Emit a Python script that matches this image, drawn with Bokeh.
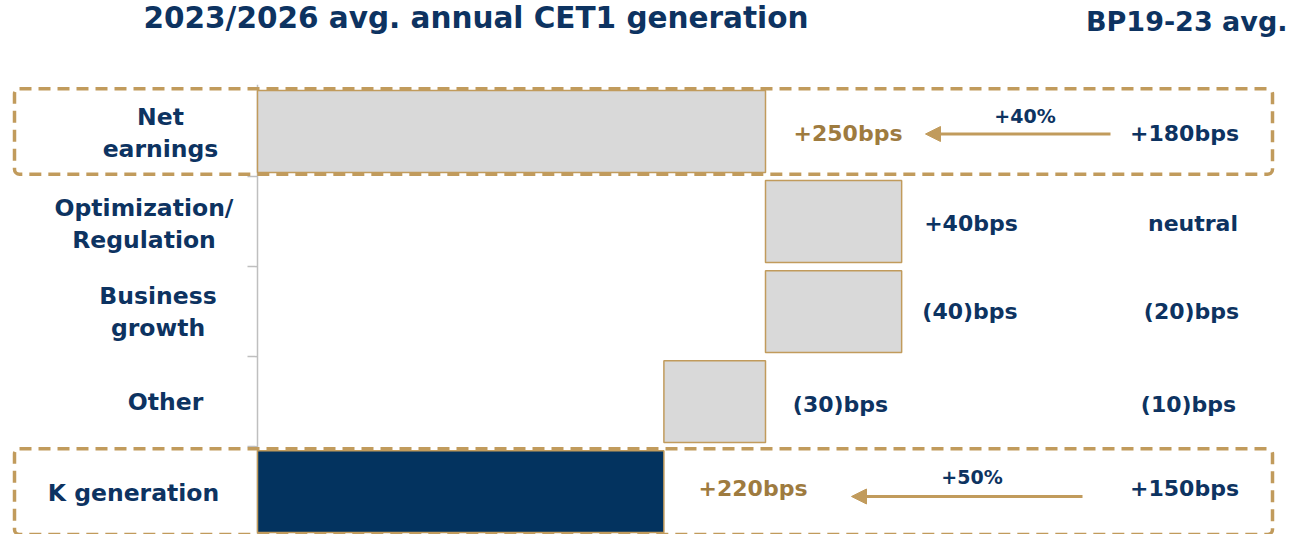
from bokeh.plotting import figure
from bokeh.models import ColumnDataSource, Range1d, Arrow, NormalHead
from bokeh.core.properties import value
from bokeh.embed import file_html
from bokeh.resources import INLINE

# ---------------- data ----------------
categories = ["Net\nearnings", "Optimization/\nRegulation", "Business\ngrowth", "Other", "K generation"]
deltas = [250, 67, -67, -50]          # drawn bar lengths (bps, as drawn in the chart)
plan_labels = ["+250bps", "+40bps", "(40)bps", "(30)bps", "+220bps"]
bp_labels = ["+180bps", "neutral", "(20)bps", "(10)bps", "+150bps"]
growth_labels = ["+40%", "", "", "", "+50%"]
title_left = "2023/2026 avg. annual CET1 generation"
title_right = "BP19-23 avg."

# ---------------- styles ----------------
NAVY = "#0D3361"
GOLD_LINE = "#C19B5C"
GOLD_TEXT = "#9E7B3F"
GREY = "#D9D9D9"
BAR_DARK = "#03335F"
FONT = value("DejaVu Sans")

# layout helpers: reference pixel -> data units
def xv(px):
    return (px - 257) / 2.032

def yv(px):
    return (px - 135.5) / 92.375

p = figure(width=1288, height=534, output_backend="svg", toolbar_location=None,
           x_range=Range1d(xv(0), xv(1288)), y_range=Range1d(yv(549), yv(1)),
           min_border=0, outline_line_color=None, background_fill_color="white",
           border_fill_color="white")
p.axis.visible = False
p.grid.visible = False

# ---------------- waterfall bars ----------------
lefts, rights = [], []
run = 0
for d in deltas:
    s, e = run, run + d
    lefts.append(min(s, e))
    rights.append(max(s, e))
    run = e
lefts.append(0)
rights.append(run)
rows = list(range(len(categories)))
half = 0.455
src = ColumnDataSource(dict(
    left=lefts, right=rights,
    top=[r - half for r in rows], bottom=[r + half for r in rows],
    fill=[GREY] * len(deltas) + [BAR_DARK],
))

# axis line + ticks
n = len(categories)
p.segment(x0=[0], y0=[-0.52], x1=[0], y1=[n - 0.5], line_color="#BFBFBF", line_width=1.5)
p.segment(x0=[xv(247)] * (n - 1), y0=[r + 0.5 for r in rows[:-1]],
          x1=[0] * (n - 1), y1=[r + 0.5 for r in rows[:-1]],
          line_color="#BFBFBF", line_width=1.5)

p.quad(left="left", right="right", top="top", bottom="bottom", source=src,
       fill_color="fill", line_color=GOLD_LINE, line_width=1.5)

# dashed highlight boxes (first and last rows)
bh = 0.475
p.quad(left=[xv(14), xv(14)], right=[xv(1272), xv(1272)],
       top=[0 - bh, n - 1 - bh], bottom=[0 + bh, n - 1 + bh],
       fill_color=None, line_color=GOLD_LINE, line_width=3.5, line_dash="12 7",
       border_radius=5)

# ---------------- texts ----------------
def txt(xs, baselines, texts, size, color, align="center"):
    # place by visual middle (cap-centre) computed from the reference baseline
    ys = [yv(b - 0.36 * size) for b in baselines]
    p.text(x=xs, y=ys, text=texts, text_font=FONT, text_font_style="bold",
           text_font_size=f"{size}px", text_color=color, text_align=align,
           text_baseline="middle")

# titles
txt([xv(475.5)], [30], [title_left], 29.5, NAVY)
txt([xv(1287)], [32], [title_right], 27, NAVY, align="right")

# category labels (two-line labels split)
cat_x = [160, 143.5, 157.5, 165, 133]
cat_base = [129, 222, 312.5, 421.5, 515]
lx, lb, lt = [], [], []
for c, cx, cb in zip(categories, cat_x, cat_base):
    for k, line in enumerate(c.split("\n")):
        lx.append(xv(cx))
        lb.append(cb + 33 * k)
        lt.append(line)
txt(lx, lb, lt, 23.5, NAVY)

# plan (2023/2026) values
plan_x = [847.5, 970.5, 969.5, 840, 752.5]
plan_base = [145, 238, 328.5, 423, 510]
plan_col = [GOLD_TEXT, NAVY, NAVY, NAVY, GOLD_TEXT]
for t, x, b, c in zip(plan_labels, plan_x, plan_base, plan_col):
    txt([xv(x)], [b], [t], 22, c)

# BP19-23 values
bp_x = [1184, 1192.5, 1191, 1188, 1184]
bp_base = [145, 238, 328.5, 423, 510]
txt([xv(x) for x in bp_x], bp_base, bp_labels, 22, NAVY)

# growth annotations and arrows
arrow_geo = {0: (1110, 925, 138, 1024.5, 126.5), 4: (1082, 851, 510, 971.5, 496.5)}
for i, g in enumerate(growth_labels):
    if not g:
        continue
    tail, tip, ay, gx, gb = arrow_geo[i]
    txt([xv(gx)], [gb], [g], 19, NAVY)
    p.add_layout(Arrow(end=NormalHead(size=15, fill_color=GOLD_LINE, line_color=GOLD_LINE, line_width=1),
                       x_start=xv(tail), y_start=yv(ay), x_end=xv(tip), y_end=yv(ay),
                       line_color=GOLD_LINE, line_width=3))

open("out.html", "w").write(file_html(p, INLINE))
